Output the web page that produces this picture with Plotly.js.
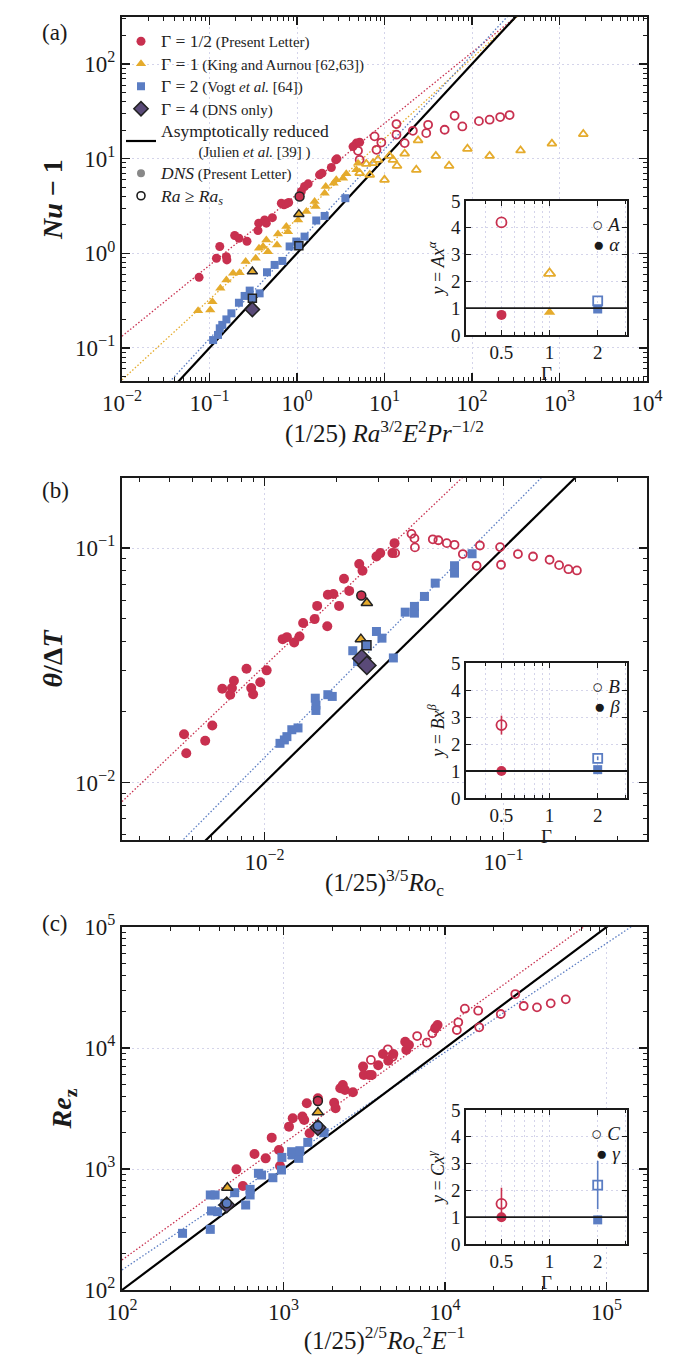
<!DOCTYPE html>
<html>
<head>
<meta charset="utf-8">
<script src="https://cdn.plot.ly/plotly-3.0.1.min.js"></script>
<style>
  html, body { margin: 0; padding: 0; background: #fff; }
  #chart { width: 700px; height: 1358px; }
</style>
</head>
<body>
<div id="chart"></div>
<script>
// ---------- panel (a): Nu - 1 ----------
const aRedX = [0.076,0.131,0.120,0.156,0.158,0.194,0.217,0.268,0.358,0.365,0.427,0.446,0.523,0.662,0.710,0.755,0.803,1.12,1.22,1.34,1.81,1.93,2.47,2.77,2.86,4.37,4.77,5.2];
const aRedY = [0.557,1.18,0.885,0.92,0.85,1.54,1.44,1.34,1.74,2.08,2.25,2.08,2.38,3.38,3.25,3.33,3.44,4.5,5.08,5.42,6.74,7.03,8.07,9.72,9.96,13.4,14.6,14.9];
const aRedOpenX = [4.98,5.2,7.7,8.1,9.2,13.7,13.7,17.0,21.1,30.0,31.5,48.7,63.3,77.6,120,159,210,269];
const aRedOpenY = [12.1,9.72,17.2,12.4,14.8,23.2,17.9,14.6,19.7,18.6,22.8,20.2,28.4,21.9,24.9,25.8,27.5,28.9];
const aYelX = [0.074,0.102,0.108,0.133,0.156,0.186,0.221,0.259,0.337,0.368,0.409,0.446,0.466,0.591,0.606,0.755,0.789,1.03,1.28,1.59,1.63,2.07,2.13,2.62,2.81,3.36,3.66,4.77,4.98];
const aYelY = [0.247,0.251,0.308,0.427,0.522,0.614,0.624,0.816,0.885,1.13,1.18,1.38,1.04,1.22,1.60,1.92,1.69,2.25,2.76,3.52,3.12,4.31,5.07,5.5,5.97,6.22,6.92,7.62,8.96];
const aYelOpenX = [5.2,6.78,6.2,7.4,8.4,10.0,11.4,12.5,13.9,17.0,23.1,24.2,38.6,54.7,88.7,159,359,819,1870];
const aYelOpenY = [7.03,6.74,8.8,8.96,9.72,5.97,10.7,9.72,8.4,11.3,7.62,15.6,10.7,8.4,12.7,10.7,12.2,14.4,18.2];
const aBlueX = [0.11,0.125,0.131,0.14,0.156,0.178,0.217,0.252,0.288,0.374,0.454,0.555,0.68,0.824,0.982,1.22,1.66,2.07,3.57];
const aBlueY = [0.121,0.137,0.161,0.175,0.20,0.232,0.30,0.354,0.403,0.377,0.63,0.753,0.83,1.18,1.33,1.5,2.22,2.48,3.82];
const aDnsRedX = [1.07], aDnsRedY = [3.98];
const aDnsYelX = [0.309,1.05], aDnsYelY = [0.64,2.59];
const aDnsBlueX = [0.309,1.05], aDnsBlueY = [0.334,1.2];
const aDiamX = [0.309], aDiamY = [0.255];
// fit lines y = A x^alpha (red, yellow, blue, asymptotic)
const aFitA = [4.2, 2.3, 1.25, 1.0];
const aFitPow = [0.75, 0.85, 1.0, 1.0];

// ---------- panel (b): theta / DeltaT ----------
const bRedX = [0.0046,0.0047,0.00564,0.00604,0.00665,0.00718,0.0073,0.00744,0.0084,0.00879,0.00895,0.00959,0.0102,0.0119,0.0124,0.0133,0.014,0.0145,0.0162,0.0166,0.0183,0.0184,0.0194,0.0205,0.0215,0.0226,0.0249,0.0257,0.0294,0.0305,0.0343,0.035];
const bRedY = [0.01607,0.01334,0.01508,0.01751,0.02512,0.02367,0.0253,0.0272,0.0306,0.0253,0.0238,0.0268,0.0301,0.0409,0.0417,0.0396,0.042,0.0479,0.0498,0.0567,0.0464,0.0632,0.0637,0.0567,0.074,0.0657,0.0855,0.080,0.0921,0.0952,0.0952,0.105];
const bRedOpenX = [0.0352,0.0412,0.0424,0.0426,0.0506,0.0534,0.0579,0.0624,0.0676,0.0772,0.0797,0.0968,0.0977,0.115,0.133,0.156,0.171,0.187,0.203];
const bRedOpenY = [0.0952,0.115,0.110,0.1007,0.109,0.108,0.105,0.1033,0.0943,0.0841,0.1026,0.101,0.0849,0.0943,0.0921,0.0892,0.0846,0.0813,0.0803];
const bBlueX = [0.0116,0.0121,0.0124,0.0130,0.0138,0.0163,0.0164,0.0164,0.0184,0.0192,0.0234,0.0245,0.0294,0.0310,0.0346,0.0388,0.0424,0.0424,0.0467,0.0518,0.0624,0.0624,0.0739];
const bBlueY = [0.0147,0.0152,0.0157,0.0168,0.0171,0.0229,0.0214,0.0203,0.0237,0.0233,0.0365,0.0328,0.0441,0.0413,0.034,0.0533,0.0564,0.0528,0.0622,0.0709,0.0841,0.0782,0.0946];
const bDnsRedX = [0.0254], bDnsRedY = [0.0628];
const bDnsYelX = [0.0268,0.0253], bDnsYelY = [0.0583,0.0409];
const bDnsBlueX = [0.0267], bDnsBlueY = [0.0385];
const bDiamX = [0.0255,0.0268], bDiamY = [0.0338,0.0316];
const bFitA = [2.74, 1.47, 1.0];
const bFitPow = [0.97, 1.03, 1.0];

// ---------- panel (c): Re_z ----------
const cRedX = [511,560,661,775,845,937,951,1081,1140,1309,1343,1393,1449,1632,2057,2099,2245,2328,2400,2689,3107,3140,3390,3517,3857,4124,4450,4782,5667,5758,5973,8987,8684];
const cRedY = [993,724,1331,1225,1816,1435,1059,2239,2624,2710,2541,3491,1972,3837,3532,3173,4645,4947,4498,4304,7018,5985,5985,5985,7194,8920,7858,8920,11272,9617,10583,15488,14550];
const cRedOpenX = [3475,4425,4731,6714,7713,8337,8773,11823,12070,13250,16032,16273,22120,27200,30660,37060,45080,55870];
const cRedOpenY = [7965,9750,8476,12558,11066,13213,14825,14083,16305,21130,20337,14825,19093,27930,22240,21670,23390,25240];
const cBlueX = [237,352,352,377,358,391,433,498,583,621,621,699,731,859,977,971,1122,1133,1241,1262,1413,1782];
const cBlueY = [294,317,610,610,450,444,520,637,504,679,610,921,892,847,1247,981,1390,1306,1225,1416,1660,1995];
const cDnsRedX = [1632], cDnsRedY = [3650];
const cDnsYelX = [449,1632], cDnsYelY = [701,2938];
const cDnsBlueX = [445,1632], cDnsBlueY = [520,2265];
const cDiamX = [445,1632], cDiamY = [505,2200];
const cFitA = [2.1, 2.32, 1.0];
const cFitPow = [0.963, 0.90, 1.0];

// ---------- insets: fit coefficients vs aspect ratio Gamma ----------
const insetGammaA = [0.5, 1, 2];
const insetA = [4.2, 2.3, 1.27];
const insetAlpha = [0.75, 0.85, 0.97];
const insetGammaBC = [0.5, 2];
const insetB = [2.7, 1.47], insetBErr = [0.35, 0.07];
const insetBeta = [1.0, 1.05];
const insetC = [1.5, 2.2], insetCErr = [0.6, 0.9];
const insetGam = [1.0, 0.9], insetGamErr = [0.1, 0.0];

// ---------- styling ----------
const SERIF = '"Liberation Serif", "DejaVu Serif", "Times New Roman", serif';
const RED = '#c8304f', YEL = '#e5ab2c', BLUE = '#5b7dc3', PURP = '#5a4a78', INK = '#1a1a1a';
const GRID = '#d4d4ea';
const W = 700, H = 1358;
const fx = p => p / W;
const fy = p => 1 - p / H;

function powText(p) { return '10<sup>' + (p < 0 ? '\u2212' : '') + Math.abs(p) + '</sup>'; }
function majors(lo, hi) { const v = []; for (let p = Math.ceil(lo); p <= Math.floor(hi); p++) v.push(p); return v; }
function minors(lo, hi) {
  const v = [];
  for (let p = Math.floor(lo); p <= Math.ceil(hi); p++)
    for (let m = 2; m <= 9; m++) { const t = m * Math.pow(10, p); if (Math.log10(t) > lo && Math.log10(t) < hi) v.push(t); }
  return v;
}

function logAxis(domain, anchor, range, title, standoff, tsize) {
  const pw = majors(range[0], range[1]);
  return {
    domain: domain, anchor: anchor, type: 'log', range: range,
    tickmode: 'array', tickvals: pw.map(p => Math.pow(10, p)), ticktext: pw.map(powText),
    tickfont: { family: SERIF, size: 23, color: INK },
    ticks: 'inside', ticklen: 8, tickwidth: 1.4, tickcolor: INK,
    minor: { tickmode: 'array', tickvals: minors(range[0], range[1]), ticks: 'inside', ticklen: 4, tickwidth: 1, tickcolor: INK, showgrid: false },
    showline: true, linewidth: 2.2, linecolor: INK, mirror: 'allticks',
    showgrid: true, gridcolor: GRID, griddash: '2px,3px', gridwidth: 1, zeroline: false,
    title: { text: title, font: { family: SERIF, size: tsize || 25, color: INK }, standoff: standoff }
  };
}

function insetX(domain, anchor) {
  return {
    domain: domain, anchor: anchor, type: 'log', range: [Math.log10(0.3), Math.log10(3.05)],
    tickmode: 'array', tickvals: [0.5, 1, 2], ticktext: ['0.5', '1', '2'],
    tickfont: { family: SERIF, size: 19, color: INK },
    ticks: 'inside', ticklen: 5, tickcolor: INK,
    minor: { tickmode: 'array', tickvals: [0.3,0.4,0.6,0.7,0.8,0.9,3], ticks: 'inside', ticklen: 3, tickcolor: INK, showgrid: true, gridcolor: GRID, griddash: '2px,3px' },
    showline: true, linewidth: 1.6, linecolor: INK, mirror: 'allticks',
    showgrid: true, gridcolor: GRID, griddash: '2px,3px', zeroline: false,
    title: { text: '\u0393', font: { family: SERIF, size: 19, color: INK }, standoff: 0 }
  };
}
function insetY(domain, anchor, title) {
  return {
    domain: domain, anchor: anchor, range: [0, 5], tickmode: 'array', tickvals: [0,1,2,3,4,5],
    tickfont: { family: SERIF, size: 19, color: INK },
    ticks: 'inside', ticklen: 5, tickcolor: INK,
    showline: true, linewidth: 1.6, linecolor: INK, mirror: 'allticks',
    showgrid: true, gridcolor: GRID, griddash: '2px,3px', zeroline: false,
    title: { text: title, font: { family: SERIF, size: 18, color: INK }, standoff: 2 }
  };
}

function pts(x, y, xa, ya, symbol, color, size, open, extra) {
  return Object.assign({
    type: 'scatter', mode: 'markers', x: x, y: y, xaxis: xa, yaxis: ya, showlegend: false,
    marker: {
      symbol: open ? symbol + '-open' : symbol, size: size, color: color,
      line: { color: color, width: open ? 1.8 : 0 }
    }
  }, extra || {});
}
function dns(x, y, xa, ya, symbol, color, size) {
  return {
    type: 'scatter', mode: 'markers', x: x, y: y, xaxis: xa, yaxis: ya, showlegend: false,
    marker: { symbol: symbol, size: size, color: color, line: { color: '#222', width: 1.5 } }
  };
}
function fitLine(A, pw, range, xa, ya, color, dotted, extra) {
  const xs = [Math.pow(10, range[0]), Math.pow(10, range[1])];
  return Object.assign({
    type: 'scatter', mode: 'lines', x: xs, y: xs.map(v => A * Math.pow(v, pw)),
    xaxis: xa, yaxis: ya, showlegend: false, hoverinfo: 'skip',
    line: dotted ? { color: color, width: 1.3, dash: '1.5px,2px' } : { color: '#000', width: 2.2 }
  }, extra || {});
}

const aXR = [-2, 4], aYR = [-1.35, 2.497];
const bXR = [-2.597, -0.399], bYR = [-2.245, -0.701];
const cXR = [2, 5.25], cYR = [2, 5.0];

const big = s => '<span style="font-size:17.5px">' + s + '</span>';
const sm = s => '<span style="font-size:15px">' + s + '</span>';
const traces = [
  // fit lines (behind markers)
  fitLine(aFitA[0], aFitPow[0], aXR, 'x', 'y', RED, true),
  fitLine(aFitA[1], aFitPow[1], aXR, 'x', 'y', YEL, true),
  fitLine(aFitA[2], aFitPow[2], aXR, 'x', 'y', BLUE, true),
  fitLine(aFitA[3], aFitPow[3], aXR, 'x', 'y', INK, false,
    { showlegend: true, legendrank: 5, name: big('Asymptotically reduced') + '<br>\u00a0\u00a0\u00a0\u00a0\u00a0\u00a0\u00a0\u00a0\u00a0\u00a0' + sm('(Julien <i>et al.</i> [39] )') }),
  fitLine(bFitA[0], bFitPow[0], bXR, 'x2', 'y2', RED, true),
  fitLine(bFitA[1], bFitPow[1], bXR, 'x2', 'y2', BLUE, true),
  fitLine(bFitA[2], bFitPow[2], bXR, 'x2', 'y2', INK, false),
  fitLine(cFitA[0], cFitPow[0], cXR, 'x3', 'y3', RED, true),
  fitLine(cFitA[1], cFitPow[1], cXR, 'x3', 'y3', BLUE, true),
  fitLine(cFitA[2], cFitPow[2], cXR, 'x3', 'y3', INK, false),

  // panel a
  pts(aRedX, aRedY, 'x', 'y', 'circle', RED, 9, false, { showlegend: true, legendrank: 1, name: big('\u0393 = 1/2') + ' ' + sm('(Present Letter)') }),
  pts(aRedOpenX, aRedOpenY, 'x', 'y', 'circle', RED, 8, true),
  pts(aYelX, aYelY, 'x', 'y', 'triangle-up', YEL, 9, false, { showlegend: true, legendrank: 2, name: big('\u0393 = 1') + ' ' + sm('(King and Aurnou [62,63])') }),
  pts(aYelOpenX, aYelOpenY, 'x', 'y', 'triangle-up', YEL, 8, true),
  pts(aBlueX, aBlueY, 'x', 'y', 'square', BLUE, 8, false, { showlegend: true, legendrank: 3, name: big('\u0393 = 2') + ' ' + sm('(Vogt <i>et al.</i> [64])') }),
  dns(aDnsRedX, aDnsRedY, 'x', 'y', 'circle', RED, 9),
  dns(aDnsYelX, aDnsYelY, 'x', 'y', 'triangle-up', YEL, 9),
  dns(aDnsBlueX, aDnsBlueY, 'x', 'y', 'square', BLUE, 8),
  Object.assign(dns(aDiamX, aDiamY, 'x', 'y', 'diamond', PURP, 11), { showlegend: true, legendrank: 4, name: big('\u0393 = 4') + ' ' + sm('(DNS only)') }),

  // panel b
  pts(bRedX, bRedY, 'x2', 'y2', 'circle', RED, 10),
  pts(bRedOpenX, bRedOpenY, 'x2', 'y2', 'circle', RED, 8, true),
  pts(bBlueX, bBlueY, 'x2', 'y2', 'square', BLUE, 9),
  dns(bDnsRedX, bDnsRedY, 'x2', 'y2', 'circle', RED, 9),
  dns(bDnsYelX, bDnsYelY, 'x2', 'y2', 'triangle-up', YEL, 10),
  dns(bDnsBlueX, bDnsBlueY, 'x2', 'y2', 'square', BLUE, 9),
  dns(bDiamX, bDiamY, 'x2', 'y2', 'diamond', PURP, 14),

  // panel c
  pts(cRedX, cRedY, 'x3', 'y3', 'circle', RED, 10),
  pts(cRedOpenX, cRedOpenY, 'x3', 'y3', 'circle', RED, 8, true),
  pts(cBlueX, cBlueY, 'x3', 'y3', 'square', BLUE, 9),
  dns(cDnsRedX, cDnsRedY, 'x3', 'y3', 'circle', RED, 9),
  dns(cDnsYelX, cDnsYelY, 'x3', 'y3', 'triangle-up', YEL, 10),
  dns(cDiamX, cDiamY, 'x3', 'y3', 'diamond', PURP, 12),
  dns(cDnsBlueX, cDnsBlueY, 'x3', 'y3', 'circle', BLUE, 9),

  // legend-only entries
  { type: 'scatter', mode: 'markers', x: [null], y: [null], xaxis: 'x', yaxis: 'y', legendrank: 6,
    name: big('<i>DNS</i>') + ' ' + sm('(Present Letter)'), marker: { symbol: 'circle', size: 8, color: '#888' } },
  { type: 'scatter', mode: 'markers', x: [null], y: [null], xaxis: 'x', yaxis: 'y', legendrank: 7,
    name: big('<i>Ra</i> \u2265 <i>Ra<sub>s</sub></i>'), marker: { symbol: 'circle-open', size: 8, color: INK, line: { width: 1.6 } } },

  // inset a
  pts([insetGammaA[0]], [insetA[0]], 'x4', 'y4', 'circle', RED, 10, true),
  pts([insetGammaA[1]], [insetA[1]], 'x4', 'y4', 'triangle-up', YEL, 10, true),
  pts([insetGammaA[2]], [insetA[2]], 'x4', 'y4', 'square', BLUE, 9, true),
  pts([insetGammaA[0]], [insetAlpha[0]], 'x4', 'y4', 'circle', RED, 10),
  pts([insetGammaA[1]], [insetAlpha[1]], 'x4', 'y4', 'triangle-up', YEL, 10),
  pts([insetGammaA[2]], [insetAlpha[2]], 'x4', 'y4', 'square', BLUE, 9),

  // inset b
  pts([insetGammaBC[0]], [insetB[0]], 'x5', 'y5', 'circle', RED, 10, true,
    { error_y: { type: 'data', array: [insetBErr[0]], color: RED, thickness: 1.6, width: 0 } }),
  pts([insetGammaBC[1]], [insetB[1]], 'x5', 'y5', 'square', BLUE, 9, true,
    { error_y: { type: 'data', array: [insetBErr[1]], color: BLUE, thickness: 1.6, width: 0 } }),
  pts([insetGammaBC[0]], [insetBeta[0]], 'x5', 'y5', 'circle', RED, 10),
  pts([insetGammaBC[1]], [insetBeta[1]], 'x5', 'y5', 'square', BLUE, 9),

  // inset c
  pts([insetGammaBC[0]], [insetC[0]], 'x6', 'y6', 'circle', RED, 10, true,
    { error_y: { type: 'data', array: [insetCErr[0]], color: RED, thickness: 1.6, width: 0 } }),
  pts([insetGammaBC[1]], [insetC[1]], 'x6', 'y6', 'square', BLUE, 9, true,
    { error_y: { type: 'data', array: [insetCErr[1]], color: BLUE, thickness: 1.6, width: 0 } }),
  pts([insetGammaBC[0]], [insetGam[0]], 'x6', 'y6', 'circle', RED, 10, false,
    { error_y: { type: 'data', array: [insetGamErr[0]], color: RED, thickness: 1.6, width: 0 } }),
  pts([insetGammaBC[1]], [insetGam[1]], 'x6', 'y6', 'square', BLUE, 9)
];

const mainXD = [fx(122), fx(647)];
const insXD = [fx(466), fx(627)];

const layout = {
  width: W, height: H,
  margin: { l: 0, r: 0, t: 0, b: 0 },
  paper_bgcolor: '#fff', plot_bgcolor: '#fff',
  font: { family: SERIF, color: INK },
  showlegend: true,
  legend: {
    x: fx(121), y: fy(25), xanchor: 'left', yanchor: 'top',
    bgcolor: 'rgba(0,0,0,0)', borderwidth: 0,
    font: { family: SERIF, size: 15, color: '#222' },
    tracegroupgap: 0, itemwidth: 30
  },
  xaxis: logAxis(mainXD, 'y', aXR, '(1/25) <i>Ra</i><sup>3/2</sup><i>E</i><sup>2</sup><i>Pr</i><sup>\u22121/2</sup>', 2),
  yaxis: logAxis([fy(381), fy(17)], 'x', aYR, '<b><i>Nu</i> \u2212 1</b>', 4, 28),
  xaxis2: logAxis(mainXD, 'y2', bXR, '(1/25)<sup>3/5</sup><i>Ro</i><sub>c</sub>', 0),
  yaxis2: logAxis([fy(840), fy(478)], 'x2', bYR, '<b><i>\u03b8</i>/\u0394<i>T</i></b>', 4, 28),
  xaxis3: logAxis(mainXD, 'y3', cXR, '(1/25)<sup>2/5</sup><i>Ro</i><sub>c</sub><sup>2</sup><i>E</i><sup>\u22121</sup>', 0),
  yaxis3: logAxis([fy(1290), fy(927)], 'x3', cYR, '<b><i>Re</i><sub>z</sub></b>', 4, 28),
  xaxis4: insetX(insXD, 'y4'),
  yaxis4: insetY([fy(335), fy(201)], 'x4', '<i>y</i> = <i>Ax</i><sup><i>\u03b1</i></sup>'),
  xaxis5: insetX(insXD, 'y5'),
  yaxis5: insetY([fy(798), fy(663)], 'x5', '<i>y</i> = <i>Bx</i><sup><i>\u03b2</i></sup>'),
  xaxis6: insetX(insXD, 'y6'),
  yaxis6: insetY([fy(1244), fy(1110)], 'x6', '<i>y</i> = <i>Cx</i><sup><i>\u03b3</i></sup>'),
  shapes: [
    { type: 'line', xref: 'x4 domain', yref: 'y4', x0: 0, x1: 1, y0: 1, y1: 1, line: { color: INK, width: 1.8 } },
    { type: 'line', xref: 'x5 domain', yref: 'y5', x0: 0, x1: 1, y0: 1, y1: 1, line: { color: INK, width: 1.8 } },
    { type: 'line', xref: 'x6 domain', yref: 'y6', x0: 0, x1: 1, y0: 1, y1: 1, line: { color: INK, width: 1.8 } }
  ],
  annotations: [
    { text: '(a)', xref: 'paper', yref: 'paper', x: fx(40), y: fy(18), showarrow: false, font: { size: 23, family: SERIF } },
    { text: '(b)', xref: 'paper', yref: 'paper', x: fx(40), y: fy(490), showarrow: false, font: { size: 23, family: SERIF } },
    { text: '(c)', xref: 'paper', yref: 'paper', x: fx(40), y: fy(938), showarrow: false, font: { size: 23, family: SERIF } }
  ]
};

// inset legends (open = prefactor, filled = exponent)
[['x4', 'y4', 'A', '\u03b1'], ['x5', 'y5', 'B', '\u03b2'], ['x6', 'y6', 'C', '\u03b3']].forEach(function (s) {
  layout.annotations.push({ text: '\u25cb <i>' + s[2] + '</i>', xref: s[0] + ' domain', yref: s[1] + ' domain', x: 0.97, y: 0.92, xanchor: 'right', showarrow: false, font: { size: 19, family: SERIF } });
  layout.annotations.push({ text: '\u25cf <i>' + s[3] + '</i>', xref: s[0] + ' domain', yref: s[1] + ' domain', x: 0.97, y: 0.77, xanchor: 'right', showarrow: false, font: { size: 19, family: SERIF } });
});

Plotly.newPlot('chart', traces, layout, { staticPlot: true });
</script>
</body>
</html>
